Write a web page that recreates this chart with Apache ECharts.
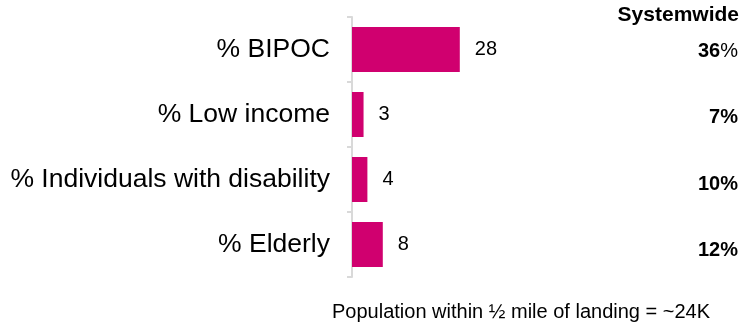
<!DOCTYPE html>
<html>
<head>
<meta charset="utf-8">
<script src="https://cdn.jsdelivr.net/npm/echarts@6/dist/echarts.min.js"></script>
<style>
  html, body { margin: 0; padding: 0; background: #fff; }
  #chart { width: 744px; height: 323px; }
</style>
</head>
<body>
<div id="chart"></div>
<script>
// data
var categories = ["% BIPOC", "% Low income", "% Individuals with disability", "% Elderly"];
var nearLanding = [28, 3, 4, 8];
var systemwide = [36, 7, 10, 12];
var pctStyle = ["n", "b", "b", "b"]; // the first "%" is not bold in the original
var footNote = "Population within \u00bd mile of landing = ~24K";

var font = "Liberation Sans, Arial, Helvetica, sans-serif";
var myChart = echarts.init(document.getElementById("chart"));

var sysLabels = systemwide.map(function (v, i) {
  return "{b|" + v + "}{" + pctStyle[i] + "|%}";
});

myChart.setOption({
  animation: false,
  title: [
    {
      text: "Systemwide",
      right: 0,
      top: 0,
      textStyle: { fontFamily: font, fontSize: 21, fontWeight: "bold", color: "#000" }
    },
    {
      text: footNote,
      left: 327,
      top: 297,
      textStyle: { fontFamily: font, fontSize: 20, fontWeight: "normal", color: "#000" }
    }
  ],
  grid: [
    { left: 352, top: 17, height: 260, width: 385 },
    { left: 741, top: 18, height: 266, width: 1 }
  ],
  xAxis: [
    { gridIndex: 0, type: "value", min: 0, max: 100, show: false },
    { gridIndex: 1, type: "value", min: 0, max: 1, show: false }
  ],
  yAxis: [
    {
      gridIndex: 0,
      type: "category",
      inverse: true,
      data: categories,
      axisLine: { show: true, lineStyle: { color: "#d9d9d9", width: 2 } },
      axisTick: { show: true, length: 5, lineStyle: { color: "#d9d9d9", width: 2 } },
      axisLabel: { fontFamily: font, fontSize: 26.5, color: "#000", margin: 22 }
    },
    {
      gridIndex: 1,
      type: "category",
      inverse: true,
      data: sysLabels,
      axisLine: { show: false },
      axisTick: { show: false },
      axisLabel: {
        margin: 3,
        rich: {
          b: { fontFamily: font, fontSize: 20, fontWeight: "bold", color: "#000" },
          n: { fontFamily: font, fontSize: 20, fontWeight: "normal", color: "#000" }
        }
      }
    }
  ],
  series: [
    {
      type: "bar",
      xAxisIndex: 0,
      yAxisIndex: 0,
      data: nearLanding,
      barWidth: 45,
      itemStyle: { color: "#d0006f" },
      label: {
        show: true,
        position: "right",
        distance: 15,
        fontFamily: font,
        fontSize: 20,
        color: "#000"
      }
    }
  ]
});
</script>
</body>
</html>
